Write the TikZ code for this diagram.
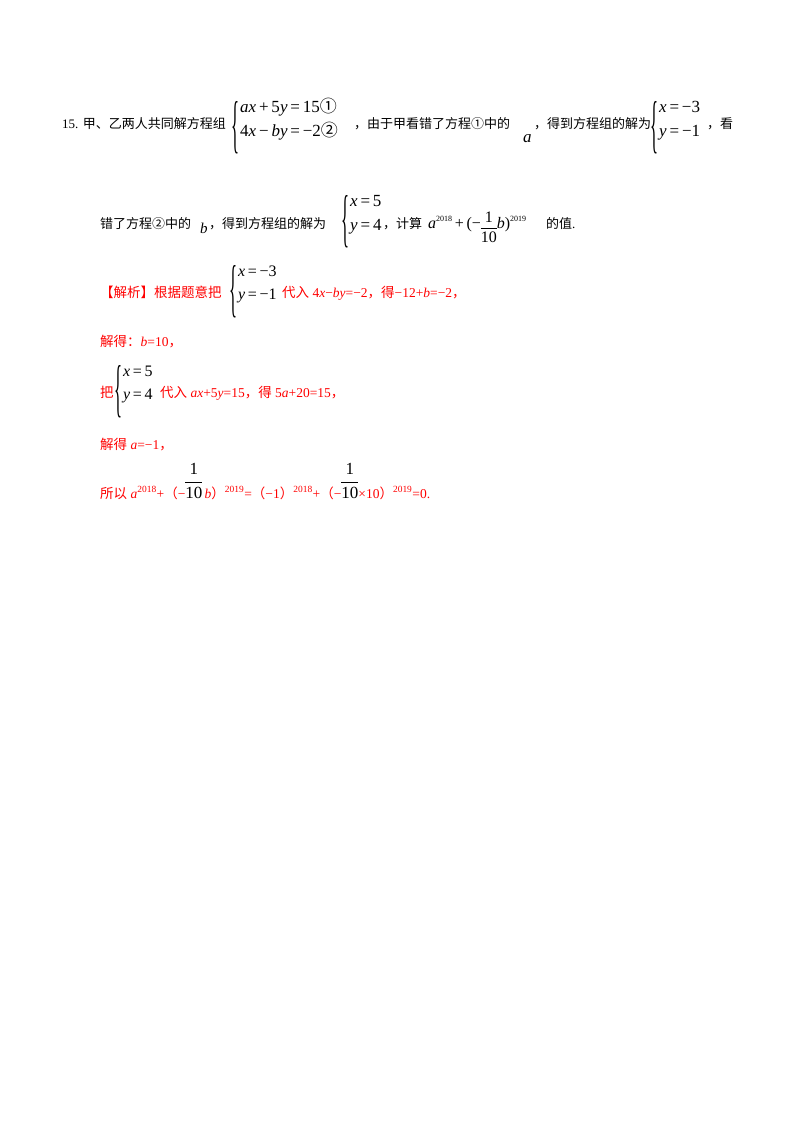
\documentclass[tikz,border=0pt]{standalone}
\usepackage{fontspec}
\setmainfont{Liberation Serif}
\newfontfamily\cjk{Noto Sans CJK SC}
\usepackage{graphicx}
\begin{document}
\begin{tikzpicture}[x=1pt,y=-1pt,
  t/.style={anchor=base west,inner sep=0pt,font=\fontsize{13}{15}\selectfont},
  r/.style={anchor=base west,inner sep=0pt,text=red,font=\fontsize{13.5}{15}\selectfont},
  sys/.style={anchor=west,inner sep=0pt,font=\fontsize{17}{19}\selectfont},
  sysr/.style={anchor=west,inner sep=0pt,font=\fontsize{16}{18.5}\selectfont}]
\useasboundingbox (0,0) rectangle (800,1132);
\def\sy#1#2{\raisebox{-0.5\height}{\resizebox{8pt}{44pt}{\fontsize{10}{10}\selectfont\{}}\hspace{1pt}{\renewcommand\arraystretch{1.27}\begin{tabular}{@{}l@{}}#1\\#2\end{tabular}}}
\def\fr#1#2{\raisebox{-5pt}{\renewcommand\arraystretch{1.1}\begin{tabular}{@{}c@{}}#1\\\hline #2\end{tabular}}}
\def\frb#1#2{{\renewcommand\arraystretch{1.2}\begin{tabular}[b]{@{}c@{}}#1\\\hline #2\end{tabular}}}
% question
\node[t] (q1) at (62,128) {15. {\cjk 甲、乙两人共同解方程组}};
\node[sys] (s1) at (231,125) {\sy{\textit{ax}\,+\,5\textit{y}\,=\,15{\cjk ①}}{4\textit{x}\,−\,\textit{by}\,=\,−2{\cjk ②}}};
\node[t] (q2) at (354,128) {\cjk ，由于甲看错了方程①中的};
\node[t,font=\fontsize{17}{17}\selectfont] (qa) at (523,142) {\textit{a}};
\node[t] (q3) at (534,128) {\cjk ，得到方程组的解为};
\node[sys] (s2) at (650,125) {\sy{\textit{x}\,=\,−3}{\textit{y}\,=\,−1}};
\node[t] (q4) at (707,128) {\cjk ，看};
\node[t] (q5) at (100,228) {\cjk 错了方程②中的};
\node[t,font=\fontsize{15}{15}\selectfont] (qb) at (200,233) {\textit{b}};
\node[t] (q6) at (209,228) {\cjk ，得到方程组的解为};
\node[sys] (s3) at (341,219) {\sy{\textit{x}\,=\,5}{\textit{y}\,=\,4}};
\node[t] (q7) at (383,228) {\cjk ，计算};
\node[t,font=\fontsize{16}{18}\selectfont] (q8) at (428,228) {\textit{a}\raisebox{7pt}{\fontsize{8}{8}\selectfont 2018}\,+\,(−\fr{1}{10}\textit{b})\raisebox{7pt}{\fontsize{8}{8}\selectfont 2019}};
\node[t] (q9) at (546,228) {{\cjk 的值}.};
% solution
\node[r] (a1) at (100,297) {\cjk 【解析】根据题意把};
\node[sysr] (s4) at (229,289) {\sy{\textit{x}\,=\,−3}{\textit{y}\,=\,−1}};
\node[r] (a2) at (282,297) {{\cjk 代入} 4\textit{x}−\textit{by}=−2{\cjk ，得}−12+\textit{b}=−2{\cjk ，}};
\node[r] (a3) at (100,346) {{\cjk 解得：}\textit{b}=10{\cjk ，}};
\node[r] (a4) at (100,397) {\cjk 把};
\node[sysr] (s5) at (114,389) {\sy{\textit{x}\,=\,5}{\textit{y}\,=\,4}};
\node[r] (a5) at (160,397) {{\cjk 代入} \textit{ax}+5\textit{y}=15{\cjk ，得} 5\textit{a}+20=15{\cjk ，}};
\node[r] (a6) at (100,449) {{\cjk 解得} \textit{a}=−1{\cjk ，}};
\node[r] (a7) at (100,498) {{\cjk 所以} \textit{a}\textsuperscript{2018}+{\cjk （}−\textcolor{black}{\fontsize{17}{19}\selectfont\frb{1}{10}}\,\textit{b}{\cjk ）}\textsuperscript{2019}={\cjk （}−1{\cjk ）}\textsuperscript{2018}+{\cjk （}−\textcolor{black}{\fontsize{17}{19}\selectfont\frb{1}{10}}×10{\cjk ）}\textsuperscript{2019}=0.};
\end{tikzpicture}
\end{document}
